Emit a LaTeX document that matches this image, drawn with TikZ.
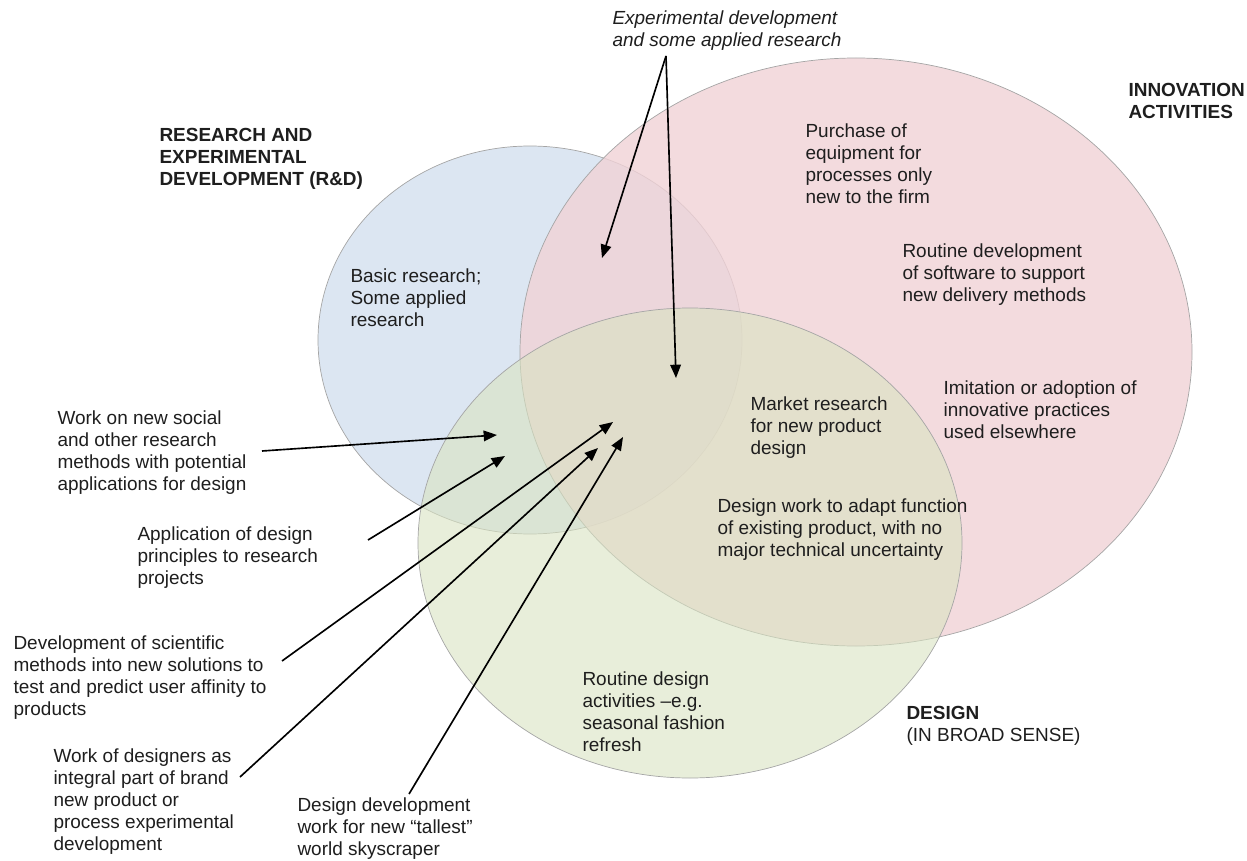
\documentclass[tikz,border=0pt]{standalone}
\usepackage{fontspec}
\setmainfont{Liberation Sans}
\usetikzlibrary{arrows.meta}

\definecolor{rdblue}{RGB}{220,230,242}
\definecolor{innopink}{RGB}{240,210,214}
\definecolor{desgreen}{RGB}{217,227,193}
\definecolor{setedge}{RGB}{165,165,165}
\definecolor{txtgray}{RGB}{30,30,30}

\begin{document}
\begin{tikzpicture}[x=0.3mm,y=-0.3mm,line width=0.9pt,>={Triangle[length=4mm,width=3.2mm]},
  lbl/.style={anchor=north west,align=left,inner sep=0pt,text=txtgray,
    font=\fontsize{16.2}{18.8}\selectfont},
  ttl/.style={lbl,font=\fontsize{16.2}{18.8}\selectfont\bfseries},
  set/.style={draw=setedge,line width=0.6pt},
  arr/.style={->,line width=1.4pt,black}]
\useasboundingbox (0,0) rectangle (1247,861);

% the three sets
\filldraw[set,fill=rdblue] (530,340) ellipse (212 and 194);
\filldraw[set,fill=innopink,fill opacity=0.8] (856,352) ellipse (336 and 294);
\filldraw[set,fill=desgreen,fill opacity=0.6] (690,543) ellipse (272 and 235);

% set titles
\node[ttl] (innov) at (1128,83) {INNOVATION\\ACTIVITIES};
\node[ttl] (rd) at (159,128) {RESEARCH AND\\EXPERIMENTAL\\DEVELOPMENT (R\&D)};
\node[ttl] (design) at (906,706) {DESIGN\\{\mdseries (IN BROAD SENSE)}};
\node[lbl,font=\fontsize{16.2}{18.8}\selectfont\itshape] (expdev) at (612,10)
  {Experimental development\\and some applied research};

% texts inside the sets
\node[lbl] (purchase) at (805,123) {Purchase of\\equipment for\\processes only\\new to the firm};
\node[lbl] (software) at (902,243) {Routine development\\of software to support\\new delivery methods};
\node[lbl] (basic) at (350,268) {Basic research;\\Some applied\\research};
\node[lbl] (imitation) at (943,380) {Imitation or adoption of\\innovative practices\\used elsewhere};
\node[lbl] (market) at (750,396) {Market research\\for new product\\design};
\node[lbl] (adapt) at (717,498) {Design work to adapt function\\of existing product, with no\\major technical uncertainty};
\node[lbl] (routine) at (582,671) {Routine design\\activities –e.g.\\seasonal fashion\\refresh};

% texts outside, pointing in
\node[lbl] (social) at (57,410) {Work on new social\\and other research\\methods with potential\\applications for design};
\node[lbl] (principles) at (137,526) {Application of design\\principles to research\\projects};
\node[lbl] (affinity) at (13,635) {Development of scientific\\methods into new solutions to\\test and predict user affinity to\\products};
\node[lbl] (brand) at (53,748) {Work of designers as\\integral part of brand\\new product or\\process experimental\\development};
\node[lbl] (tallest) at (297,797) {Design development\\work for new “tallest”\\world skyscraper};

% arrow ends
\coordinate (fork) at (666,56);
\coordinate (rdinno) at (602,258);
\coordinate (allthree) at (676,378);
\coordinate (socialfrom) at (262,451);
\coordinate (socialto) at (497,435);
\coordinate (principlesfrom) at (368,540);
\coordinate (principlesto) at (505,456);
\coordinate (affinityfrom) at (282,661);
\coordinate (affinityto) at (613,422);
\coordinate (brandfrom) at (240,777);
\coordinate (brandto) at (598,448);
\coordinate (tallestfrom) at (409,794);
\coordinate (tallestto) at (623,437);

\draw[arr] (fork) -- (rdinno);
\draw[arr] (fork) -- (allthree);
\draw[arr] (socialfrom) -- (socialto);
\draw[arr] (principlesfrom) -- (principlesto);
\draw[arr] (affinityfrom) -- (affinityto);
\draw[arr] (brandfrom) -- (brandto);
\draw[arr] (tallestfrom) -- (tallestto);
\end{tikzpicture}
\end{document}
